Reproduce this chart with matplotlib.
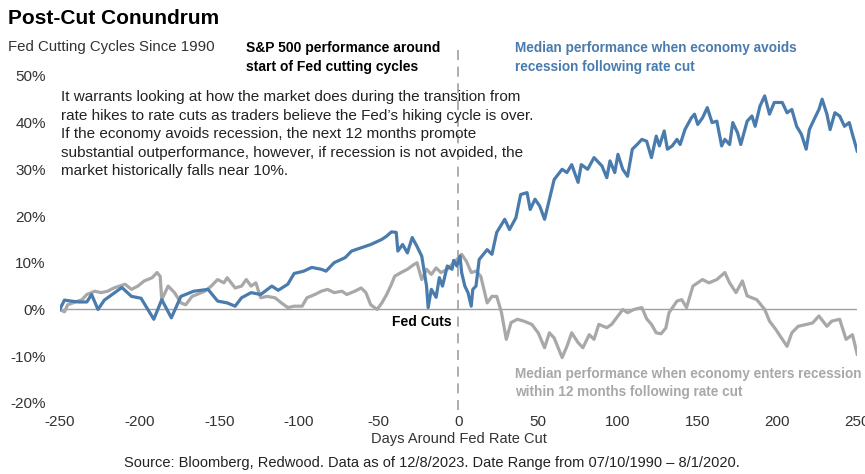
import matplotlib
matplotlib.use("Agg")
import matplotlib.pyplot as plt

plt.rcParams['font.family'] = ['Liberation Sans', 'DejaVu Sans']
plt.rcParams['axes.unicode_minus'] = False

# median S&P 500 performance (%) around the first Fed cut, day 0 = cut
avoid_days = [-250, -247, -243, -238, -233, -230, -226, -222, -211, -205, -199, -191, -186, -180,
              -174, -166, -157, -151, -145, -140, -136, -130, -124, -117, -113, -107, -103, -97,
              -92, -86, -83, -78, -71, -67, -61, -55, -48, -45, -42, -39, -38, -35, -32, -29,
              -26, -23, -20, -19, -17, -14, -12, -10, -7, -4, -3, -1, 1, 2, 4, 6, 8, 9, 11, 13,
              18, 21, 24, 29, 32, 36, 39, 43, 45, 48, 51, 54, 56, 60, 65, 68, 71, 75, 77, 81,
              85, 90, 93, 95, 98, 100, 103, 106, 109, 112, 115, 118, 121, 124, 126, 129, 131,
              134, 137, 139, 142, 146, 148, 150, 153, 156, 159, 162, 165, 167, 170, 172, 175,
              177, 181, 184, 186, 189, 192, 195, 198, 203, 206, 209, 212, 215, 218, 220, 223,
              226, 228, 231, 233, 236, 239, 242, 245, 247, 250]
avoid_vals = [0, 2, 1.8, 1.6, 1.6, 3.2, 0, 2, 4.7, 2.8, 2.4, -2.1, 2.1, -1.8,
              2.8, 3.9, 4.3, 1.8, 1.4, 0.7, 2.5, 3.6, 3.2, 5, 4.1, 5.4, 7.7, 8.2,
              9, 8.6, 8.2, 10, 11.1, 12.5, 13.2, 13.9, 15, 15.7, 16.6, 16.5, 12.5, 13.9, 12.1, 15.4,
              13.5, 11.4, 5, 0.4, 4.3, 2.6, 6.8, 5, 9.3, 8.6, 10.5, 9.3, 11.4, 7.9, 5, 3.6, 0.7, 4.3, 5, 10.7,
              12.8, 11.8, 16.5, 19.3, 17.1, 19.6, 24.6, 25, 21.4, 23.6, 22.1, 19.3, 22.1, 27.8, 30, 29.3, 31, 27.2, 31, 30,
              32.5, 30.7, 28.2, 31.8, 29.3, 33.2, 30, 28.5, 34.3, 35.3, 36.4, 36, 32.5, 37.1, 35, 38.2, 34.3,
              35, 36.4, 35.3, 38.5, 41, 41.8, 39.6, 41, 43.2, 40, 40.3, 35, 36.4, 35.3, 40, 37.8,
              35.3, 40.3, 41.4, 39.2, 43.5, 45.7, 41.8, 44.3, 44.3, 42.1, 42.8, 39.2, 37.5, 34.3, 38.5, 40.7,
              42.8, 45, 41.8, 38.5, 42.1, 41.4, 39.2, 40, 37.5, 33.9]

recess_days = [-250, -247, -245, -241, -236, -233, -228, -224, -220, -216, -209, -205, -201, -197,
               -192, -189, -187, -186, -182, -178, -174, -171, -167, -164, -159, -155, -151, -147,
               -145, -140, -136, -133, -130, -127, -124, -120, -115, -111, -107, -103, -98, -95,
               -90, -86, -82, -78, -73, -70, -65, -61, -58, -55, -51, -48, -45, -42, -40, -36,
               -32, -28, -26, -23, -20, -17, -14, -11, -7, -3, 1, 2, 5, 8, 11, 14, 18, 21, 24,
               27, 30, 33, 37, 41, 46, 50, 54, 57, 60, 65, 68, 71, 75, 78, 82, 85, 88, 93, 96,
               100, 103, 106, 110, 115, 118, 121, 124, 127, 130, 132, 137, 140, 143, 147, 153,
               157, 162, 167, 170, 174, 178, 181, 187, 192, 195, 199, 206, 209, 213, 218, 222,
               226, 231, 234, 239, 243, 247, 250]
recess_vals = [0, -0.5, 1, 1.5, 2.1, 3.2, 3.9, 3.6, 3.9, 4.6, 5.4, 4.3, 5, 6.1,
               6.8, 7.9, 7.1, 2.1, 5, 3.6, 1.4, 1, 2.8, 3.2, 3.9, 5, 6.4, 5.7,
               6.8, 4.6, 5, 6.4, 5, 5.7, 2.5, 2.8, 2.5, 1.4, 0.4, 0.7, 0.7, 2.5,
               3.2, 3.9, 4.3, 3.6, 3.9, 3.2, 3.9, 4.6, 3.6, 1, 0, 1.4, 3.2, 5.4, 7.1, 7.9,
               8.6, 9.6, 10, 6.4, 8.6, 7.5, 8.9, 7.9, 8.6, 10, 11.4, 11.8, 10.3, 7.9, 8.2, 7.1, 1.4, 2.8, 2.8,
               -0.7, -6.4, -2.8, -2.1, -2.5, -3.2, -5, -8.2, -5, -6.1, -10.3, -7.9, -5, -7.1, -8.2, -5.4, -6.4, -3.2, -3.9, -3.2,
               -1.4, 0, -0.7, 0, 0.4, -2, -3.2, -5, -5.2, -4, -0.7, 1.8, 2.1, 0.4, 5, 6.4,
               5.7, 6.4, 7.9, 5.7, 3.6, 6.1, 2.9, 2.1, 0, -2.5, -4.3, -7.9, -5, -3.6, -3.2, -2.9,
               -1.4, -3.6, -2.5, -2.1, -6.4, -5.4, -9.6]

x_ticks = [-250, -200, -150, -100, -50, 0, 50, 100, 150, 200, 250]
y_ticks = [-20, -10, 0, 10, 20, 30, 40, 50]

blue = '#4a7bad'
grey = '#a8a8a8'

fig = plt.figure(figsize=(8.65, 4.74), dpi=100)
ax = fig.add_axes([0.069, 0.150, 0.922, 0.690])

ax.plot([-250, 250], [0, 0], color='#a0a0a0', lw=1.0, zorder=1)
ax.plot(recess_days, recess_vals, color=grey, lw=2.3, zorder=2)
ax.plot(avoid_days, avoid_vals, color=blue, lw=2.3, zorder=3)
ax.plot([0, 0], [-21.5, 56.8], color='#a0a0a0', lw=1.2, ls=(0, (6, 4)), clip_on=False, zorder=1)

ax.set_xlim(-250, 250)
ax.set_ylim(-20, 50)
ax.set_xticks(x_ticks)
ax.set_yticks(y_ticks)
ax.set_yticklabels([f'{v}%' for v in y_ticks])
ax.tick_params(length=0, labelsize=11, colors='#333333')
ax.tick_params(axis='x', pad=9)
ax.tick_params(axis='y', pad=10)
for s in ax.spines.values():
    s.set_visible(False)
ax.set_xlabel('Days Around Fed Rate Cut', fontsize=10.5, color='#333333', labelpad=2)

fig.text(0.009, 0.962, 'Post-Cut Conundrum', fontsize=15, fontweight='bold', va='center')
fig.text(0.009, 0.900, 'Fed Cutting Cycles Since 1990', fontsize=10.8, va='center', color='#333333')
fig.text(0.284, 0.879, 'S&P 500 performance around\nstart of Fed cutting cycles', fontsize=10,
         fontweight='bold', va='center', linespacing=1.4)
fig.text(0.595, 0.879, 'Median performance when economy avoids\nrecession following rate cut',
         fontsize=9.8, fontweight='bold', va='center', color=blue, linespacing=1.4)
fig.text(0.595, 0.192, 'Median performance when economy enters recession\nwithin 12 months following rate cut',
         fontsize=9.8, fontweight='bold', va='center', color=grey, linespacing=1.4)
ax.text(-4, -2.7, 'Fed Cuts', fontsize=10, fontweight='bold', ha='right', va='center')
ax.text(-249, 46.9, 'It warrants looking at how the market does during the transition from\n'
        'rate hikes to rate cuts as traders believe the Fed\u2019s hiking cycle is over.\n'
        'If the economy avoids recession, the next 12 months promote\n'
        'substantial outperformance, however, if recession is not avoided, the\n'
        'market historically falls near 10%.', fontsize=11, va='top', color='#222222',
        linespacing=1.4)
fig.text(0.499, 0.023, 'Source: Bloomberg, Redwood. Data as of 12/8/2023. Date Range from 07/10/1990 \u2013 8/1/2020.',
         fontsize=10.5, ha='center', va='center', color='#222222')

fig.savefig('out.png', dpi=100)
